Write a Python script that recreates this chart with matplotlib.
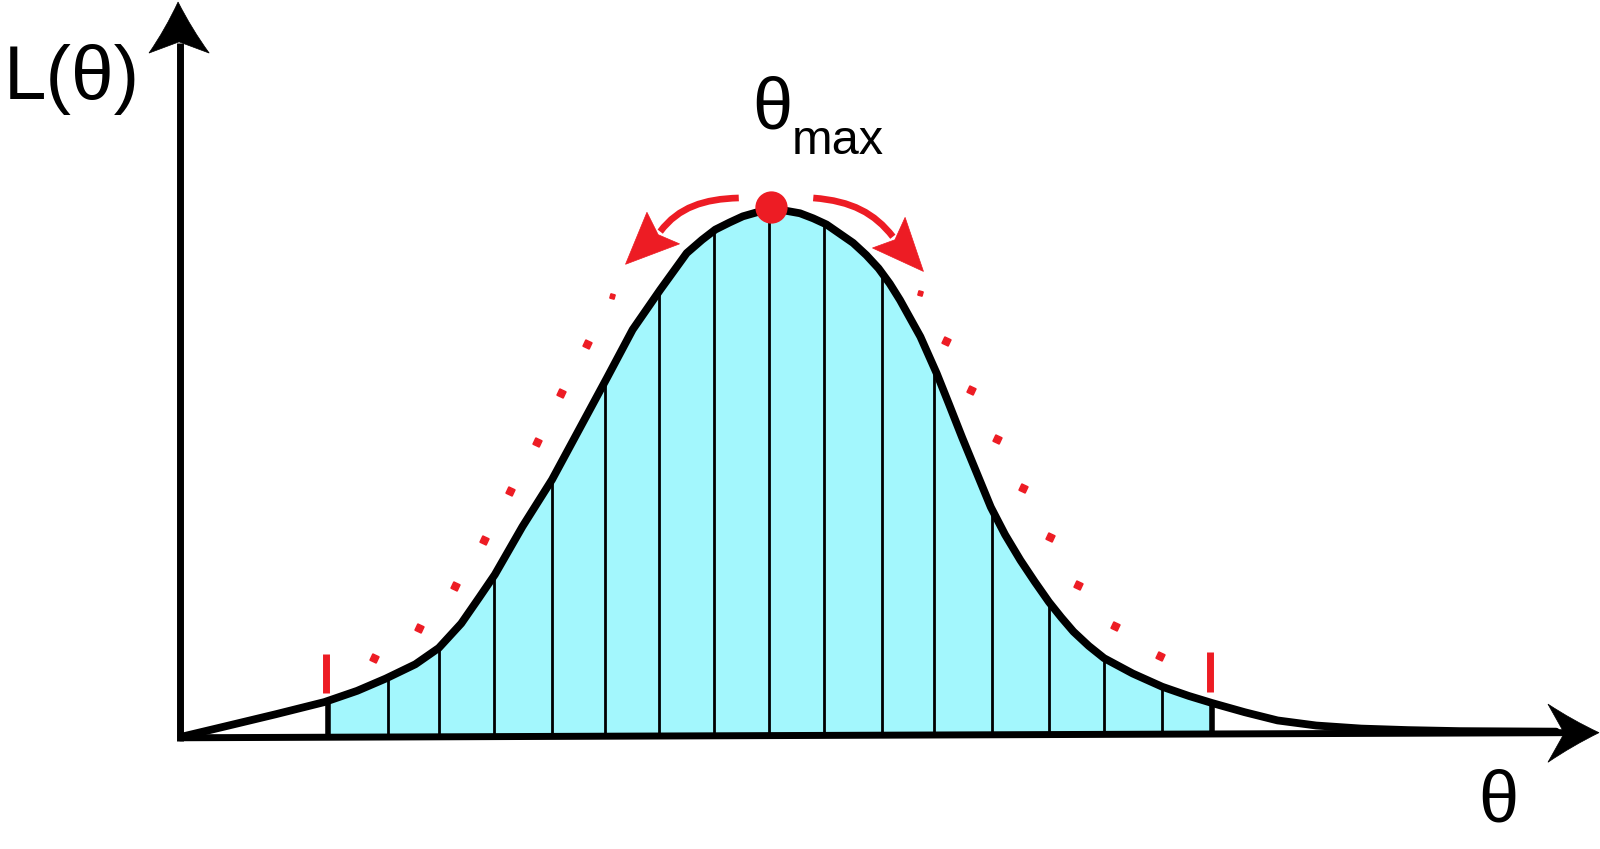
import numpy as np
import matplotlib.pyplot as plt
from matplotlib.path import Path
from matplotlib.patches import PathPatch

# everything is in picture units (reference drawn at 1568 x 832)
W, H = 1568, 832

# likelihood curve
curve_x = [178, 220, 270, 318, 350, 378, 407, 430, 452, 470, 485, 512, 541, 568,
           595, 620, 647, 673, 688, 701, 715, 728, 742, 755, 770, 784, 797, 810,
           823, 836, 849, 861, 872, 882, 892, 902, 910, 918, 930, 943, 957, 971,
           985, 1000, 1014, 1028, 1040, 1052, 1067, 1082, 1110, 1139, 1165, 1188,
           1220, 1252, 1290, 1334, 1380, 1430, 1525]
curve_y = [722, 712, 700, 688, 677, 665, 651, 635, 611, 585, 563, 516, 470, 420,
           370, 323, 284, 248, 235, 225, 218, 212, 208, 206, 206.5, 209, 214, 220,
           229, 238, 250, 263, 278, 294, 312, 330, 348, 366, 396, 429, 463, 497,
           524, 549, 570, 590, 605, 619, 633, 645, 660, 673, 682, 689,
           698, 706, 711, 714, 715.5, 716.5, 717]

# vertical strips under the curve
strip_x = [321, 380, 430, 484, 541, 593, 646, 700, 754, 808, 864, 915, 972, 1028,
           1082, 1139, 1188]

# baseline of the theta axis (slightly tilted in the drawing)
base_x = [176, 1534]
base_y = [723, 718]

# red dotted envelope
dots_x = [367, 411, 446, 474, 500, 526, 550, 575, 927, 952, 977, 1003,
          1029, 1056, 1093, 1137]
dots_y = [645, 615, 574, 529, 481, 433, 385, 337, 334, 382, 430, 478,
          526, 573, 613, 643]
dash_x = [600, 902]
dash_y = [290, 287]

# red interval ticks
tick_x = [319, 1186]
tick_top = [641, 639]
tick_bot = [679, 678]

# theta max point
peak_x, peak_y = 755.5, 202.5

# red curved arrows: shaft (start, ctrl, ctrl, end) and head (tip, corner, notch, corner)
arrowL_shaft = [(724, 194), (690, 195), (665, 203), (647, 227)]
arrowL_head = [(613, 259), (634, 208), (645, 230), (666, 239)]
arrowR_shaft = [(797, 194), (835, 197), (857, 209), (875, 232)]
arrowR_head = [(905, 266), (887, 213), (877, 235), (855, 243)]

RED = '#ED1C24'
CYAN = '#A3F7FD'

fig = plt.figure(figsize=(16, 8.49), dpi=100)
ax = fig.add_axes([0, 0, 1, 1])
ax.set_xlim(0, W)
ax.set_ylim(H, 0)
ax.axis('off')

cx = np.array(curve_x, float)
cy = np.array(curve_y, float)

# shaded area between the outer strips
lo, hi = strip_x[0], strip_x[-1]
fx = np.concatenate([[lo], cx[(cx > lo) & (cx < hi)], [hi]])
fy = np.interp(fx, cx, cy)
by = np.interp(fx, base_x, base_y)
ax.fill_between(fx, fy, by, color=CYAN, lw=0, zorder=1)

# strip lines
for i, sx in enumerate(strip_x):
    top = np.interp(sx, cx, cy)
    bot = np.interp(sx, base_x, base_y)
    lw = 4.0 if i in (0, len(strip_x) - 1) else 2.0
    ax.plot([sx, sx], [bot, top], color='black', lw=lw, zorder=2)

# axes
ax.plot(base_x, base_y, color='black', lw=5, solid_capstyle='butt', zorder=3)
ax.plot([176, 176], [726, 42], color='black', lw=5, solid_capstyle='butt', zorder=3)


def arrow_head(tip, c1, notch, c2, color, bend=0.0):
    # notched head, sides pulled in by "bend"
    m1 = ((tip[0] + c1[0]) / 2, (tip[1] + c1[1]) / 2)
    m2 = ((tip[0] + c2[0]) / 2, (tip[1] + c2[1]) / 2)
    k1 = (m1[0] + bend * (notch[0] - m1[0]), m1[1] + bend * (notch[1] - m1[1]))
    k2 = (m2[0] + bend * (notch[0] - m2[0]), m2[1] + bend * (notch[1] - m2[1]))
    verts = [tip, k1, c1, notch, c2, k2, tip, tip]
    codes = [Path.MOVETO, Path.CURVE3, Path.CURVE3, Path.LINETO, Path.LINETO,
             Path.CURVE3, Path.CURVE3, Path.CLOSEPOLY]
    ax.add_patch(PathPatch(Path(verts, codes), fc=color, ec=color, lw=0.5, zorder=6))


arrow_head((174.5, 2), (146, 52), (175.5, 41), (205, 52), 'black', 0.12)
arrow_head((1567, 718), (1517, 690), (1533, 718.5), (1517, 747), 'black', 0.12)

# curve
ax.plot(cx, cy, color='black', lw=5.6, solid_joinstyle='round',
        solid_capstyle='round', zorder=4)

# red dotted envelope and interval ticks
ax.plot(dots_x, dots_y, ls='none', marker=(4, 0, 20), ms=7, color=RED, zorder=4)
ax.plot(dash_x, dash_y, ls='none', marker=(4, 0, 30), ms=4.5, color=RED, zorder=4)
for tx, t0, t1 in zip(tick_x, tick_top, tick_bot):
    ax.plot([tx, tx], [t0, t1], color=RED, lw=5, solid_capstyle='butt', zorder=4)

# curved red arrows
for shaft, head in [(arrowL_shaft, arrowL_head), (arrowR_shaft, arrowR_head)]:
    p = Path(shaft, [Path.MOVETO, Path.CURVE4, Path.CURVE4, Path.CURVE4])
    ax.add_patch(PathPatch(p, fc='none', ec=RED, lw=4.8, capstyle='butt', zorder=5))
    arrow_head(head[0], head[1], head[2], head[3], RED)

ax.scatter([peak_x], [peak_y], s=540, color=RED, lw=0, zorder=7)

# labels
font = 'Liberation Sans'
ax.text(4, 97, 'L(θ)', fontsize=55, family=font, ha='left', va='baseline')
ax.text(1468, 805, 'θ', fontsize=52, family=font, ha='center', va='baseline')
ax.text(757, 126, 'θ', fontsize=52, family=font, ha='center', va='baseline')
ax.text(776, 151, 'max', fontsize=35, family=font, ha='left', va='baseline')

fig.savefig('out.png', dpi=100)
